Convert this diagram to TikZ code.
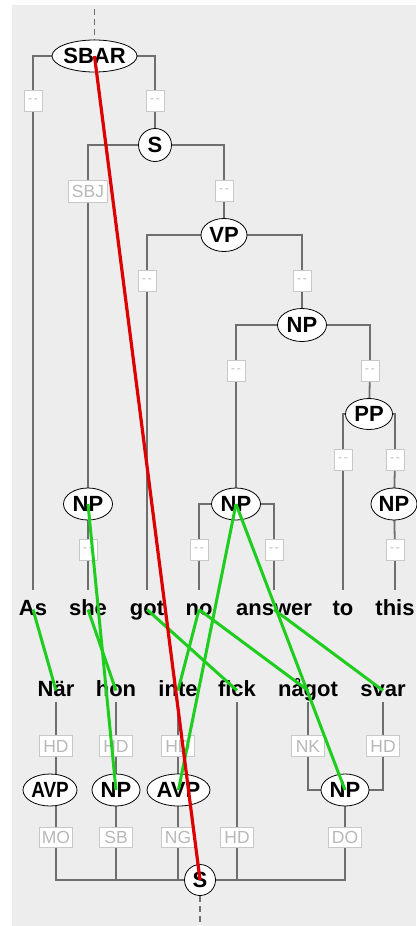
\documentclass[tikz,border=0pt]{standalone}
\usepackage{fontspec}
\usepackage{graphicx}
\setmainfont{Liberation Sans}
\usetikzlibrary{shapes.geometric}
\definecolor{bgc}{HTML}{EDEDED}
\definecolor{edgec}{HTML}{6E6E6E}
\definecolor{lblborder}{HTML}{C8C8C8}
\definecolor{lbltext}{HTML}{B8B8B8}
\definecolor{linkgreen}{RGB}{30,205,30}
\definecolor{linkred}{HTML}{DD0000}
\newcommand\TreeFont{\fontsize{22pt}{22pt}\selectfont\bfseries}
\newcommand\LblFont{\fontsize{17.5pt}{18pt}\selectfont}
\newcommand\DashFont{\fontsize{12pt}{12pt}\selectfont}
\pgfdeclarelayer{bg}
\pgfdeclarelayer{edges}
\pgfsetlayers{bg,edges,main}
\tikzset{
  tn/.style={ellipse, draw=black, line width=0.8pt, fill=white, inner sep=0pt,
    minimum height=32pt, font=\TreeFont},
  tc/.style={circle, draw=black, line width=0.8pt, fill=white, inner sep=0pt,
    minimum size=33pt, font=\TreeFont},
  lbl/.style={rectangle, draw=lblborder, line width=0.8pt, fill=white, text=lbltext,
    inner sep=0pt, minimum height=21pt, minimum width=33pt, font=\LblFont},
  dbox/.style={lbl, minimum width=18pt, font=\DashFont},
  wtop/.style={inner xsep=0pt, inner ysep=9pt, text height=16pt, text depth=5pt,
    anchor=base, font=\TreeFont},
  wbot/.style={inner xsep=0pt, inner ysep=1pt, text height=16pt, text depth=5pt,
    anchor=base, font=\TreeFont},
  treeline/.style={draw=edgec, line width=1.8pt},
  glink/.style={draw=linkgreen, line width=3pt},
  rlink/.style={draw=linkred, line width=3.2pt},
  stub/.style={draw=edgec, line width=1.8pt, dash pattern=on 6pt off 4pt},
}
\newcommand\dd{-\,-}
\begin{document}
\begin{tikzpicture}[x=1pt,y=-1pt]
\useasboundingbox (0,0) rectangle (416,926);
\begin{pgfonlayer}{bg}
  \fill[white] (0,0) rectangle (416,926);
  \fill[bgc] (12,5) rectangle (416,926);
\end{pgfonlayer}

% upper tree nodes
\node[tn, minimum width=85pt] (sbar) at (94.5,56) {\makebox[0pt]{SBAR}};
\node[tc] (s1) at (155,145) {\makebox[0pt]{S}};
\node[tn, minimum width=46pt, minimum height=33pt] (vp) at (224,235) {\makebox[0pt]{VP}};
\node[tn, minimum width=49pt, minimum height=33pt] (npa) at (302,325) {\makebox[0pt]{NP}};
\node[tn, minimum width=47pt, minimum height=31pt] (pp) at (369,414) {\makebox[0pt]{PP}};
\node[tn, minimum width=49pt] (np1) at (88,504) {\makebox[0pt]{NP}};
\node[tn, minimum width=49pt] (np2) at (236,504) {\makebox[0pt]{NP}};
\node[tn, minimum width=46pt] (np3) at (394,504) {\makebox[0pt]{NP}};

% upper label boxes
\node[dbox] (b1) at (33,101) {\dd};
\node[dbox] (b2) at (155,101) {\dd};
\node[lbl, minimum width=39pt, minimum height=22pt] (sbj) at (88,191) {SBJ};
\node[dbox] (b3) at (224,191) {\dd};
\node[dbox] (b4) at (147,281) {\dd};
\node[dbox] (b5) at (302,281) {\dd};
\node[dbox] (b6) at (236,371) {\dd};
\node[dbox] (b7) at (370,371) {\dd};
\node[dbox] (b8) at (343,460) {\dd};
\node[dbox] (b9) at (395,460) {\dd};
\node[dbox] (b10) at (88,550) {\dd};
\node[dbox] (b11) at (199,550) {\dd};
\node[dbox] (b12) at (274,550) {\dd};
\node[dbox] (b13) at (395,550) {\dd};

% English words
\node[wtop] (wAs) at (33,615) {As};
\node[wtop] (wShe) at (88,615) {she};
\node[wtop] (wGot) at (147,615) {got};
\node[wtop] (wNo) at (199,615) {no};
\node[wtop] (wAnswer) at (274,615) {answer};
\node[wtop] (wTo) at (343,615) {to};
\node[wtop] (wThis) at (395,615) {this};

% Swedish words
\node[wbot] (wNar) at (56,696) {När};
\node[wbot] (wHon) at (116,696) {hon};
\node[wbot] (wInte) at (178,696) {inte};
\node[wbot] (wFick) at (237,696) {fick};
\node[wbot] (wNagot) at (308,696) {något};
\node[wbot] (wSvar) at (383,696) {svar};

% lower label boxes
\node[lbl] (h1) at (56,746) {HD};
\node[lbl] (h2) at (116,746) {HD};
\node[lbl] (h3) at (178,746) {HD};
\node[lbl] (nk) at (308,746) {NK};
\node[lbl] (h5) at (383,746) {HD};

% lower tree nodes
\node[tn, minimum width=54pt] (avp1) at (50,790) {\makebox[0pt]{\scalebox{0.86}[1]{AVP}}};
\node[tn, minimum width=48pt] (npb) at (116,790) {\makebox[0pt]{NP}};
\node[tn, minimum width=63pt] (avp2) at (178.5,790) {\makebox[0pt]{AVP}};
\node[tn, minimum width=48pt] (npc) at (345,790) {\makebox[0pt]{NP}};

\node[lbl, minimum height=20pt] (mo) at (56,837) {MO};
\node[lbl, minimum height=20pt] (sb) at (116,837) {SB};
\node[lbl, minimum height=20pt] (ng) at (178,837) {NG};
\node[lbl, minimum height=20pt] (hd) at (237,837) {HD};
\node[lbl, minimum height=20pt] (do) at (345,837) {DO};

\node[tc, minimum size=31pt] (s2) at (200,880) {\makebox[0pt]{S}};

\coordinate (topend) at (94.5,9);
\coordinate (botend) at (200,926);

% tree edges (behind nodes)
\begin{pgfonlayer}{edges}
  \draw[stub] (topend) -- (sbar.north);
  \draw[stub] (s2.south) -- (botend);
  \draw[treeline] (sbar.center) -| (b1.center) -- (wAs.north);
  \draw[treeline] (sbar.center) -| (b2.center) -- (s1.center);
  \draw[treeline] (s1.center) -| (sbj.center) -- (np1.center) -- (b10.center) -- (wShe.north);
  \draw[treeline] (s1.center) -| (b3.center) -- (vp.center);
  \draw[treeline] (vp.center) -| (b4.center) -- (wGot.north);
  \draw[treeline] (vp.center) -| (b5.center) -- (npa.center);
  \draw[treeline] (npa.center) -| (b6.center) -- (np2.center);
  \draw[treeline] (npa.center) -| (b7.center) -- (pp.center);
  \draw[treeline] (pp.center) -| (b8.center) -- (wTo.north);
  \draw[treeline] (pp.center) -| (b9.center) -- (np3.center) -- (b13.center) -- (wThis.north);
  \draw[treeline] (np2.center) -| (b11.center) -- (wNo.north);
  \draw[treeline] (np2.center) -| (b12.center) -- (wAnswer.north);
  % lower tree
  \draw[treeline] (wNar.south) -- (h1.center |- s2.center) -- (do.center |- s2.center) -- (npc.center);
  \draw[treeline] (wHon.south) -- (h2.center |- s2.center);
  \draw[treeline] (wInte.south) -- (h3.center |- s2.center);
  \draw[treeline] (wFick.south) -- (hd.center |- s2.center);
  \draw[treeline] (wNagot.south) -- (nk.center |- npc.center) -- (npc.center);
  \draw[treeline] (wSvar.south) -- (h5.center |- npc.center) -- (npc.center);
\end{pgfonlayer}

% alignment links (on top)
\draw[glink] (wAs.center) -- (wNar.center);
\draw[glink] (wShe.center) -- (wHon.center);
\draw[glink] (wGot.center) -- (wFick.center);
\draw[glink] (wNo.center) -- (wInte.center);
\draw[glink] (wNo.center) -- (wNagot.center);
\draw[glink] (wAnswer.center) -- (wSvar.center);
\draw[glink] (np1.center) -- (npb.center);
\draw[glink] (np2.center) -- (avp2.center);
\draw[glink] (np2.center) -- (npc.center);
\draw[rlink] (sbar.center) -- (s2.center);
\end{tikzpicture}
\end{document}
